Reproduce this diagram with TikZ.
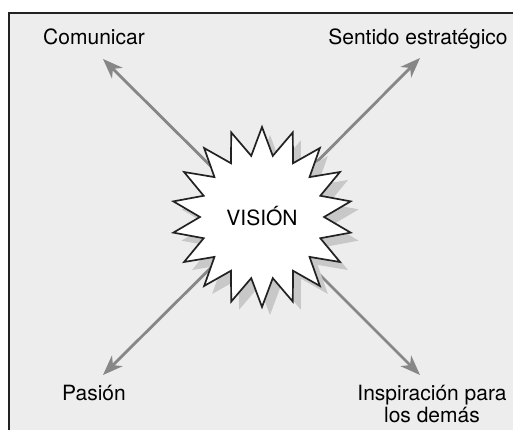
\documentclass[tikz,border=0pt]{standalone}
\usepackage{fontspec}
\setmainfont{TeX Gyre Heros}
\usetikzlibrary{arrows.meta,shapes.geometric,shadows}
\definecolor{bgc}{HTML}{EDEDED}
\definecolor{arrc}{HTML}{878787}
\definecolor{shc}{HTML}{C8C8C8}
\definecolor{framec}{HTML}{222222}
\tikzset{
  lbl/.style={font=\fontsize{21}{22}\selectfont, inner sep=0pt, anchor=base, align=center},
  arr/.style={draw=arrc, line width=2.8pt, -{Stealth[length=20pt,width=15pt,inset=6pt]}},
  burst/.style={star, star points=18, star point ratio=1.45, minimum size=180pt, inner sep=0pt,
    fill=white, draw=framec, line width=1.7pt, line join=miter,
    drop shadow={shadow xshift=8pt, shadow yshift=-8pt, fill=shc, opacity=1},
    font=\fontsize{21}{22}\selectfont}
}
\begin{document}
\begin{tikzpicture}[x=1pt,y=-1pt]
\useasboundingbox (0,0) rectangle (513,430);
\begin{scope}
\clip (0,0) rectangle (513,430);
\draw[fill=bgc, draw=framec, line width=2pt] (9,13) rectangle (530,450);
\end{scope}
\coordinate (c) at (262,217);
\coordinate (tl) at (103,59);
\coordinate (tr) at (420,58);
\coordinate (bl) at (103,375);
\coordinate (br) at (420,375);
\draw[arr] (c) -- (tl);
\draw[arr] (c) -- (tr);
\draw[arr] (c) -- (bl);
\draw[arr] (c) -- (br);
\node[burst] (vision) at (c) {};
\node[lbl] (vt) at (262,225) {VISIÓN};
\node[lbl] (com) at (94,45) {Comunicar};
\node[lbl] (sen) at (418,45) {Sentido estratégico};
\node[lbl] (pas) at (94,400) {Pasión};
\node[lbl] (ins) at (432,422) {Inspiración para\\los demás};
\end{tikzpicture}
\end{document}
